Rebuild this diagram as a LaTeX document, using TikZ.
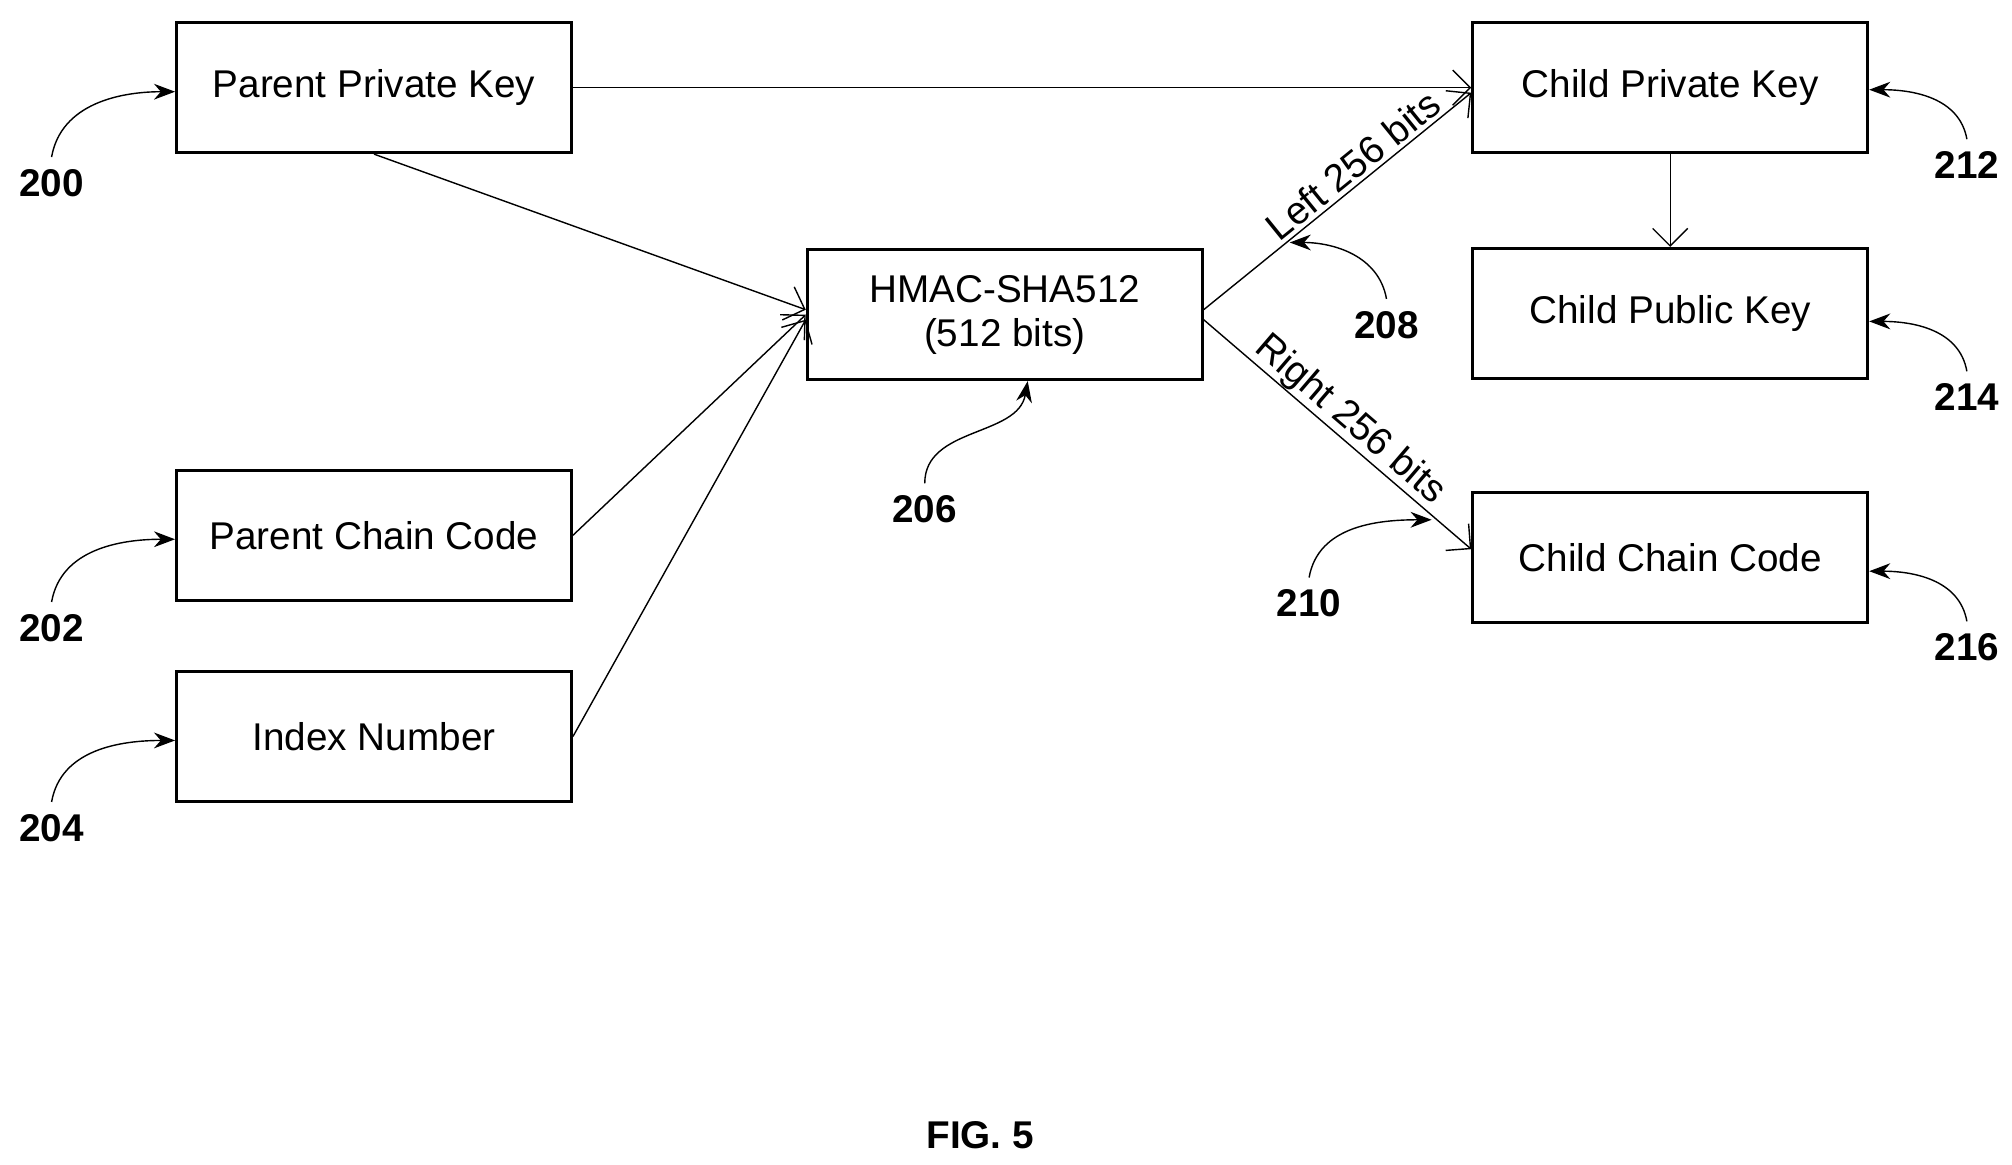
\documentclass[tikz,border=0pt]{standalone}
\usepackage{fontspec}
\setmainfont{Liberation Sans}
\usetikzlibrary{arrows.meta}

\begin{document}
\begin{tikzpicture}[x=0.0129cm,y=-0.0129cm,
  box/.style={draw,thick,minimum width=3.95cm,minimum height=1.3cm,align=center,font=\fontsize{11}{12.5}\selectfont},
  flow/.style={-{Straight Barb[length=5pt]},thin},
  ref/.style={font=\bfseries\fontsize{11}{13}\selectfont},
  callout/.style={-{Stealth[length=6pt]},thin}]
\useasboundingbox (0,0) rectangle (1560,903);

\node[box] (ppk) at (290,68)  {Parent Private Key};
\node[box] (pcc) at (290,415) {Parent Chain Code};
\node[box] (idx) at (290,571) {Index Number};
\node[box] (hmac) at (779,244) {HMAC-SHA512\\(512 bits)};
\node[box] (cpk) at (1295,68)  {Child Private Key};
\node[box] (cpub) at (1295,243) {Child Public Key};
\node[box] (ccc) at (1295,432) {Child Chain Code};

\draw[flow] (ppk.east) -- (cpk.west);
\draw[flow] (ppk.south) -- ([yshift=0.05cm]hmac.west);
\draw[flow] (pcc.east) -- (hmac.west);
\draw[flow] (idx.east) -- ([yshift=-0.05cm]hmac.west);
\draw[flow] ([yshift=0.05cm]hmac.east) -- node[sloped,above,inner sep=1pt,font=\fontsize{11}{13}\selectfont,pos=0.6] {Left 256 bits} ([yshift=-0.05cm]cpk.west);
\draw[flow] ([yshift=-0.05cm]hmac.east) -- node[sloped,above,inner sep=0pt,font=\fontsize{11}{13}\selectfont,pos=0.5] {Right 256 bits} ([yshift=0.08cm]ccc.west);
\draw[flow] (cpk.south) -- (cpub.north);

\node[ref] (r200) at (40,142) {200};
\node[ref] (r202) at (40,487) {202};
\node[ref] (r204) at (40,642) {204};
\node[ref] (r206) at (717,395) {206};
\node[ref] (r208) at (1075,252) {208};
\node[ref] (r210) at (1015,468) {210};
\node[ref] (r212) at (1525,128) {212};
\node[ref] (r214) at (1525,308) {214};
\node[ref] (r216) at (1525,502) {216};
\coordinate (t208) at (1000,188);
\coordinate (t210) at (1110,403);

\draw[callout] (r200.north) to[out=80,in=180] ([yshift=-0.04cm]ppk.west);
\draw[callout] (r202.north) to[out=80,in=180] ([yshift=-0.04cm]pcc.west);
\draw[callout] (r204.north) to[out=80,in=180] ([yshift=-0.04cm]idx.west);
\draw[callout] (r206.north) to[out=90,in=260] ([xshift=0.23cm]hmac.south);
\draw[callout] (r208.north) to[out=100,in=0] (t208);
\draw[callout] (r210.north) to[out=80,in=180] (t210);
\draw[callout] (r212.north) to[out=100,in=0] ([yshift=-0.02cm]cpk.east);
\draw[callout] (r214.north) to[out=100,in=0] ([yshift=-0.08cm]cpub.east);
\draw[callout] (r216.north) to[out=100,in=0] ([yshift=-0.14cm]ccc.east);

\node[ref] (fig) at (760,880) {FIG. 5};
\end{tikzpicture}
\end{document}
